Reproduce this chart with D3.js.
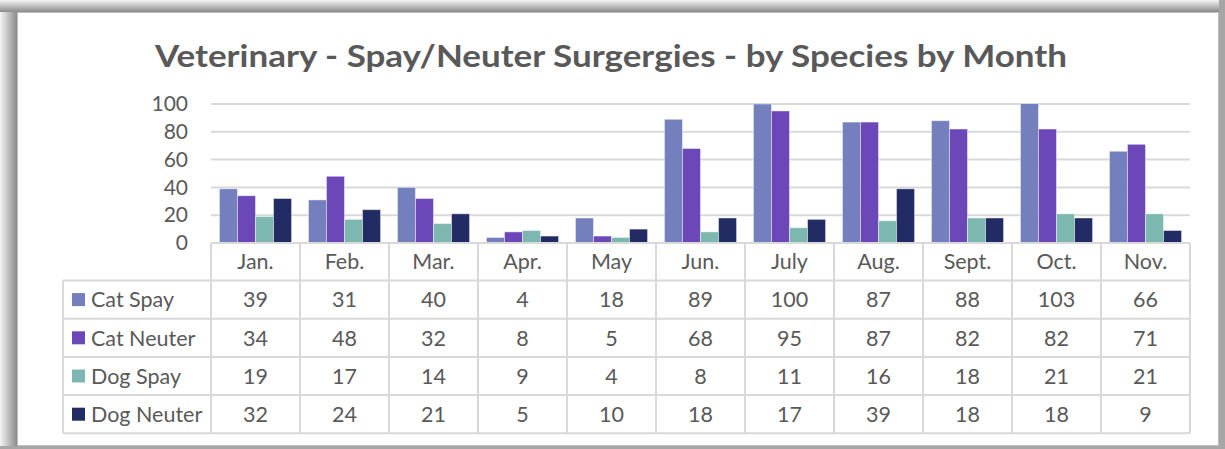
<!DOCTYPE html>
<html>
<head>
<meta charset="utf-8">
<script src="https://cdn.jsdelivr.net/npm/d3@7"></script>
<style>
html,body{margin:0;padding:0;background:#fff;}
svg{display:block;}
</style>
</head>
<body>
<svg id="chart" width="1225" height="449"></svg>
<script>
const title = "Veterinary - Spay/Neuter Surgergies - by Species by Month";
const months = ["Jan.","Feb.","Mar.","Apr.","May","Jun.","July","Aug.","Sept.","Oct.","Nov."];
const seriesNames = ["Cat Spay","Cat Neuter","Dog Spay","Dog Neuter"];
const seriesColors = ["#7480BE","#6C47B7","#7DB8B0","#222B63"];
const catSpay   = [39,31,40,4,18,89,100,87,88,103,66];
const catNeuter = [34,48,32,8,5,68,95,87,82,82,71];
const dogSpay   = [19,17,14,9,4,8,11,16,18,21,21];
const dogNeuter = [32,24,21,5,10,18,17,39,18,18,9];
const yTicks = [0,20,40,60,80,100];

const seriesValues = [catSpay, catNeuter, dogSpay, dogNeuter];
const series = seriesNames.map((name,i)=>({name, color:seriesColors[i], values:seriesValues[i]}));

const svg = d3.select("#chart");
const W = 1225, H = 449;
const txt = "#595959";
const grid = "#D9D9D9";
const font = "Lato, 'Open Sans', sans-serif";

// frame / shadow
const defs = svg.append("defs");
const gl = defs.append("linearGradient").attr("id","gl").attr("x1","0").attr("x2","1").attr("y1","0").attr("y2","0");
gl.append("stop").attr("offset","0").attr("stop-color","#f4f4f4");
gl.append("stop").attr("offset","1").attr("stop-color","#8a8a8a");
const gt = defs.append("linearGradient").attr("id","gt").attr("x1","0").attr("x2","0").attr("y1","0").attr("y2","1");
gt.append("stop").attr("offset","0").attr("stop-color","#f4f4f4");
gt.append("stop").attr("offset","1").attr("stop-color","#8a8a8a");
svg.append("rect").attr("x",0).attr("y",0).attr("width",W).attr("height",H).attr("fill","#fff");
svg.append("rect").attr("x",0).attr("y",0).attr("width",17).attr("height",H).attr("fill","url(#gl)");
svg.append("rect").attr("x",0).attr("y",0).attr("width",W).attr("height",12).attr("fill","url(#gt)");
svg.append("rect").attr("x",1219).attr("y",0).attr("width",6).attr("height",H).attr("fill","#a6a6a6");
svg.append("rect").attr("x",0).attr("y",446).attr("width",W).attr("height",3).attr("fill","#a6a6a6");
svg.append("rect").attr("x",17.5).attr("y",12.5).attr("width",1201).attr("height",433)
  .attr("fill","#fff").attr("stroke","#bdbdbd").attr("stroke-width",1);

// title
svg.append("text").attr("x",611).attr("y",67).attr("text-anchor","middle")
  .attr("font-family",font).attr("font-weight","bold").attr("font-size",30)
  .attr("fill",txt).attr("textLength",912).attr("lengthAdjust","spacingAndGlyphs")
  .text(title);

// scales
const left = 211, right = 1190;
const y = d3.scaleLinear().domain([0,100]).range([243,104]);
const x0 = d3.scaleBand().domain(months).range([left,right]).paddingInner(0.19).paddingOuter(0.095);
const x1 = d3.scaleBand().domain(seriesNames).range([0,x0.bandwidth()]).padding(0);
const col = d3.scaleBand().domain(months).range([left,right]).padding(0);

// gridlines
svg.append("g").selectAll("line").data(yTicks).join("line")
  .attr("x1",left).attr("x2",right).attr("y1",d=>y(d)).attr("y2",d=>y(d))
  .attr("stroke",grid).attr("stroke-width",2);

// y axis labels
const yAxis = d3.axisLeft(y).tickValues(yTicks).tickSize(0).tickPadding(0);
const ya = svg.append("g").attr("transform","translate(188,0)").call(yAxis);
ya.select(".domain").remove();
ya.selectAll("text").attr("font-family",font).attr("font-size",21).attr("fill",txt);

// bars
defs.append("clipPath").attr("id","plotclip").append("rect")
  .attr("x",left).attr("y",y(100)).attr("width",right-left).attr("height",y(0)-y(100));
const bars = svg.append("g").attr("clip-path","url(#plotclip)");
months.forEach((m,mi)=>{
  bars.append("g").attr("transform",`translate(${x0(m)},0)`)
    .selectAll("rect").data(series).join("rect")
    .attr("x",d=>x1(d.name)).attr("width",x1.bandwidth())
    .attr("y",d=>y(d.values[mi])).attr("height",d=>y(0)-y(d.values[mi]))
    .attr("fill",d=>d.color).attr("stroke","rgba(255,255,255,0.45)").attr("stroke-width",1);
});

// data table
const tableTop = 243, headerBottom = 280.5, rowH = 38.2, tableLeft = 63;
const rowY = i => headerBottom + i*rowH;
const tableBottom = rowY(4);
const tg = svg.append("g");
tg.append("line").attr("x1",left).attr("x2",right).attr("y1",tableTop).attr("y2",tableTop).attr("stroke",grid).attr("stroke-width",2);
[0,1,2,3,4].forEach(i=>{
  tg.append("line").attr("x1",tableLeft).attr("x2",right).attr("y1",rowY(i)).attr("y2",rowY(i)).attr("stroke",grid).attr("stroke-width",2);
});
tg.append("line").attr("x1",tableLeft).attr("x2",tableLeft).attr("y1",headerBottom).attr("y2",tableBottom).attr("stroke",grid).attr("stroke-width",2);
months.concat(["_end"]).forEach((m,i)=>{
  const xx = m==="_end" ? right : col(m);
  tg.append("line").attr("x1",xx).attr("x2",xx).attr("y1",tableTop).attr("y2",tableBottom).attr("stroke",grid).attr("stroke-width",2);
});
tg.selectAll("text.mh").data(months).join("text").attr("class","mh")
  .attr("x",d=>col(d)+col.bandwidth()/2).attr("y",(tableTop+headerBottom)/2).attr("dy","0.36em")
  .attr("text-anchor","middle").attr("font-family",font).attr("font-size",21.5).attr("fill",txt).text(d=>d);
series.forEach((s,si)=>{
  const cy = rowY(si)+rowH/2;
  tg.append("rect").attr("x",72).attr("y",cy-6.5).attr("width",13).attr("height",13).attr("fill",s.color);
  tg.append("text").attr("x",91).attr("y",cy).attr("dy","0.36em")
    .attr("font-family",font).attr("font-size",21.5).attr("fill",txt).text(s.name);
  tg.selectAll(null).data(months).join("text")
    .attr("x",d=>col(d)+col.bandwidth()/2).attr("y",cy).attr("dy","0.36em")
    .attr("text-anchor","middle").attr("font-family",font).attr("font-size",21.5).attr("fill",txt)
    .text((d,mi)=>s.values[mi]);
});
</script>
</body>
</html>
